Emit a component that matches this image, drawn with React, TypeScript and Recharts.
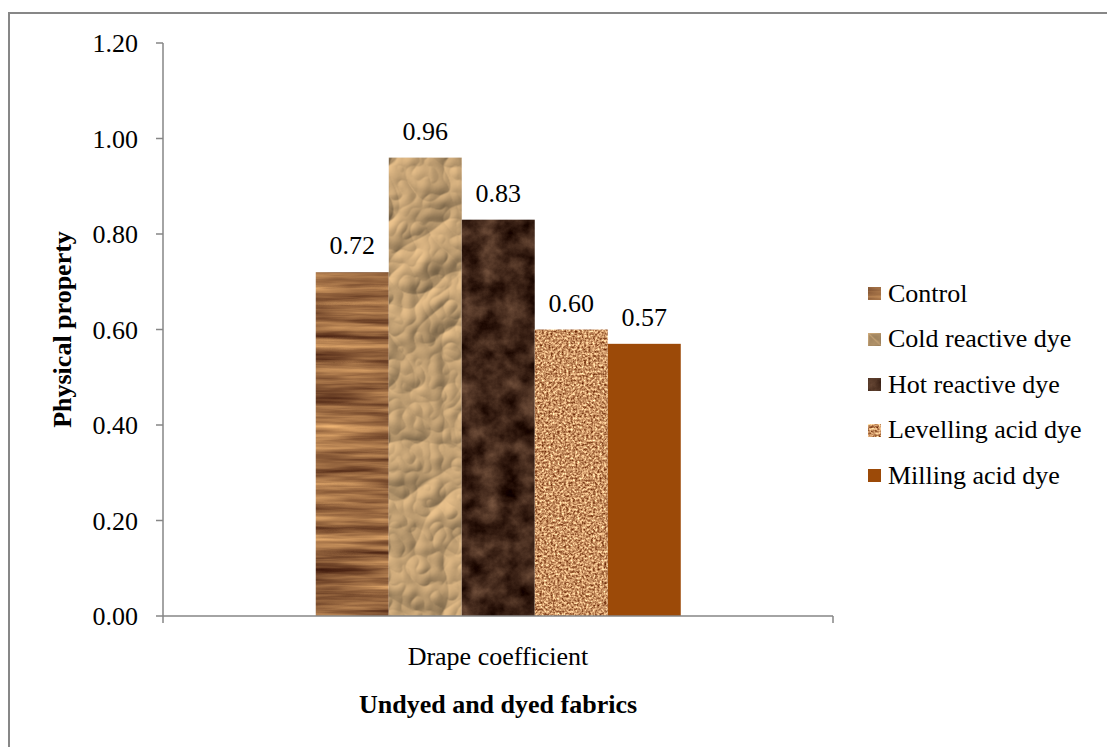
import React from 'react';
import { BarChart, Bar, XAxis, YAxis, Legend, LabelList, Label } from 'recharts';

// Drape coefficient of the undyed control and the four dyed fabrics
const categories = ['Drape coefficient'];
const seriesNames = ['Control', 'Cold reactive dye', 'Hot reactive dye', 'Levelling acid dye', 'Milling acid dye'];
const drapeValues = [0.72, 0.96, 0.83, 0.6, 0.57];
const yTicks = [0, 0.2, 0.4, 0.6, 0.8, 1.0, 1.2];

const seriesKeys = seriesNames.map((_, i) => `s${i}`);
const data = categories.map((name) => {
  const row: Record<string, string | number> = { name };
  seriesKeys.forEach((k, i) => {
    row[k] = drapeValues[i];
  });
  return row;
});

const FONT = '"Liberation Serif", "Times New Roman", serif';
const AXIS = '#868686';
const TICK_SIZE = 7;
const TICK_MARGIN = 24;

// texture filter per series (null = plain fill)
const textures: (string | null)[] = ['tex-wood', 'tex-paper', 'tex-marble', 'tex-granite', null];
const baseFills = ['#9b6a42', '#d2b07f', '#4a2c1c', '#cf9a66', '#9c4a08'];

const TexturedBar = (idx: number) => (props: any) => {
  const { x, y, width, height } = props;
  if (!height || height <= 0) return null;
  const tex = textures[idx];
  return (
    <rect
      x={x}
      y={y}
      width={width}
      height={height}
      fill={baseFills[idx]}
      filter={tex ? `url(#${tex})` : undefined}
    />
  );
};

const Swatch = ({ idx }: { idx: number }) => {
  const tex = textures[idx];
  return (
    <svg width={13} height={13} style={{ display: 'block', overflow: 'visible' }}>
      <rect x={0} y={0} width={13} height={13} fill={baseFills[idx]} filter={tex ? `url(#${tex})` : undefined} />
    </svg>
  );
};

const renderLegend = () => (
  <div style={{ fontFamily: FONT, fontSize: 26, color: '#000', whiteSpace: 'nowrap' }}>
    {seriesNames.map((n, i) => (
      <div key={n} style={{ display: 'flex', alignItems: 'center', height: 45.5 }}>
        <div style={{ width: 13, marginRight: 7 }}>
          <Swatch idx={i} />
        </div>
        <span>{n}</span>
      </div>
    ))}
  </div>
);

// category axis tick: label centred in the band, tick marks at the band edges
const CategoryTick = (props: any) => {
  const { x, y, payload } = props;
  const half = payload?.offset ?? 0;
  const axisY = y - TICK_SIZE - TICK_MARGIN;
  const cx = payload?.coordinate ?? x;
  return (
    <g>
      {half > 0 && (
        <>
          <line x1={cx - half} x2={cx - half} y1={axisY} y2={axisY + TICK_SIZE} stroke={AXIS} strokeWidth={1.5} />
          <line x1={cx + half} x2={cx + half} y1={axisY} y2={axisY + TICK_SIZE} stroke={AXIS} strokeWidth={1.5} />
        </>
      )}
      <text x={x} y={y} dy="0.71em" textAnchor="middle" fill="#000" fontSize={26} fontFamily={FONT}>
        {payload.value}
      </text>
    </g>
  );
};

const YTitle = (props: any) => {
  const vb = props.viewBox || { x: 63, y: 43, width: 100, height: 573 };
  const cx = vb.x - 1;
  const cy = vb.y + vb.height / 2;
  return (
    <text
      x={cx}
      y={cy}
      transform={`rotate(-90, ${cx}, ${cy})`}
      textAnchor="middle"
      dominantBaseline="central"
      fontFamily={FONT}
      fontSize={26}
      fontWeight="bold"
      fill="#000"
    >
      Physical property
    </text>
  );
};

export default function App() {
  return (
    <div style={{ position: 'fixed', left: 0, top: 0, width: 1107, height: 747, background: '#fff', overflow: 'hidden' }}>
      <div style={{ position: 'absolute', left: 8, top: 12, width: 1200, height: 800, border: '2px solid #878787' }} />
      <BarChart
        width={1107}
        height={747}
        data={data}
        margin={{ top: 43, right: 274, bottom: 31, left: 63 }}
        barCategoryGap="22.8%"
        barGap={0}
        style={{ position: 'absolute', left: 0, top: 0 }}
      >
        <defs>
          <filter id="tex-wood" x="0" y="0" width="1" height="1" colorInterpolationFilters="sRGB">
            <feTurbulence type="fractalNoise" baseFrequency="0.008 0.12" numOctaves={4} seed={3} result="n" />
            <feColorMatrix
              in="n"
              type="matrix"
              values="0.85 0 0 0 0.17  0.75 0 0 0 0.03  0.5 0 0 0 0.0  0 0 0 0 1"
              result="c"
            />
            <feComposite in="c" in2="SourceAlpha" operator="in" />
          </filter>
          <filter id="tex-paper" x="0" y="0" width="1" height="1" colorInterpolationFilters="sRGB">
            <feTurbulence type="turbulence" baseFrequency="0.018" numOctaves={3} seed={7} result="n" />
            <feDiffuseLighting in="n" surfaceScale={3.5} diffuseConstant={1.05} lightingColor="#f2c890" result="l">
              <feDistantLight azimuth={225} elevation={48} />
            </feDiffuseLighting>
            <feComposite in="l" in2="SourceAlpha" operator="in" />
          </filter>
          <filter id="tex-marble" x="0" y="0" width="1" height="1" colorInterpolationFilters="sRGB">
            <feTurbulence type="fractalNoise" baseFrequency="0.05" numOctaves={5} seed={11} result="n" />
            <feColorMatrix
              in="n"
              type="matrix"
              values="0.5 0 0 0 0.0  0.42 0 0 0 -0.06  0.34 0 0 0 -0.07  0 0 0 0 1"
              result="c"
            />
            <feComposite in="c" in2="SourceAlpha" operator="in" />
          </filter>
          <filter id="tex-granite" x="0" y="0" width="1" height="1" colorInterpolationFilters="sRGB">
            <feTurbulence type="fractalNoise" baseFrequency="0.45" numOctaves={2} seed={5} result="n" />
            <feColorMatrix
              in="n"
              type="matrix"
              values="1.1 0 0 0 0.24  1.25 0 0 0 -0.05  1.1 0 0 0 -0.16  0 0 0 0 1"
              result="c"
            />
            <feComposite in="c" in2="SourceAlpha" operator="in" />
          </filter>
        </defs>

        <XAxis
          dataKey="name"
          height={100}
          axisLine={{ stroke: AXIS, strokeWidth: 1.5 }}
          tickLine={false}
          tickSize={TICK_SIZE}
          tickMargin={TICK_MARGIN}
          tick={<CategoryTick />}
        >
          <Label
            value="Undyed and dyed fabrics"
            position="insideBottom"
            offset={3}
            fill="#000"
            fontSize={26}
            fontFamily={FONT}
            fontWeight="bold"
          />
        </XAxis>
        <YAxis
          width={100}
          domain={[0, 1.2]}
          ticks={yTicks}
          interval={0}
          tickFormatter={(v: number) => v.toFixed(2)}
          axisLine={{ stroke: AXIS, strokeWidth: 1.5 }}
          tickLine={{ stroke: AXIS, strokeWidth: 1.5 }}
          tickSize={TICK_SIZE}
          tickMargin={18}
          tick={{ fill: '#000', fontSize: 26, fontFamily: FONT }}
        >
          <Label content={<YTitle />} />
        </YAxis>
        <Legend
          layout="horizontal"
          verticalAlign="middle"
          align="center"
          content={renderLegend}
          wrapperStyle={{ left: 868, top: 271, width: 239 }}
        />
        {seriesKeys.map((k, i) => (
          <Bar key={k} dataKey={k} name={seriesNames[i]} fill={baseFills[i]} shape={TexturedBar(i)} isAnimationActive={false}>
            <LabelList
              dataKey={k}
              position="top"
              offset={18}
              formatter={(v: any) => Number(v).toFixed(2)}
              fill="#000"
              fontSize={26}
              fontFamily={FONT}
            />
          </Bar>
        ))}
      </BarChart>
    </div>
  );
}
